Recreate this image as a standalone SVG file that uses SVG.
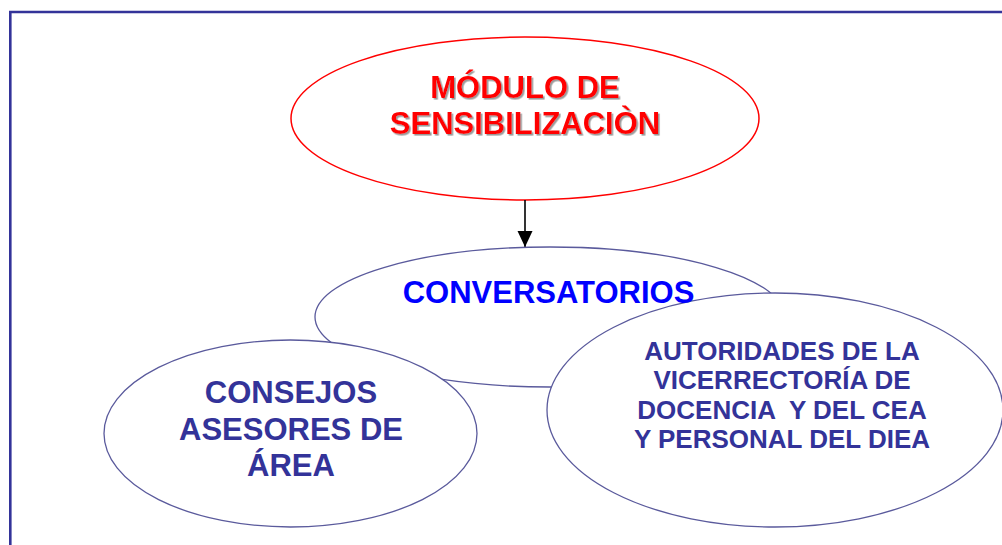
<svg xmlns="http://www.w3.org/2000/svg" width="1002" height="545" viewBox="0 0 1002 545">
<defs>
<style>
.t{font-family:"Liberation Sans",Arial,sans-serif;font-weight:bold;text-anchor:middle;white-space:pre}
.node{fill:#ffffff;stroke:#5a5a9c;stroke-width:1.3}
.navy{fill:#333399}
</style>
<filter id="sh" x="-10%" y="-10%" width="120%" height="130%">
<feDropShadow dx="1.6" dy="1.6" stdDeviation="0.4" flood-color="#9a9a9a" flood-opacity="1"/>
</filter>
<marker id="ah" markerWidth="16" markerHeight="16" refX="16" refY="7.5" orient="auto" markerUnits="userSpaceOnUse">
<path d="M0,0 L16,7.5 L0,15 Z" fill="#000"/>
</marker>
</defs>
<rect width="1002" height="545" fill="#ffffff"/>
<g id="frame">
<path d="M10.3,545 L10.3,12 L1002,12" fill="none" stroke="#333399" stroke-width="2.6"/>
</g>
<g id="modulo">
<ellipse cx="525" cy="118.5" rx="234" ry="81.5" fill="#fff" stroke="#ff0000" stroke-width="1.5"/>
<text class="t" x="525" y="98" font-size="31" fill="#ff0000" filter="url(#sh)">MÓDULO DE</text>
<text class="t" x="525" y="134" font-size="31" fill="#ff0000" filter="url(#sh)">SENSIBILIZACIÒN</text>
</g>
<g id="connectors">
<line x1="525" y1="200" x2="525" y2="247" stroke="#000" stroke-width="1.6" marker-end="url(#ah)"/>
</g>
<g id="conversatorios">
<ellipse class="node" cx="550" cy="317" rx="235" ry="70"/>
</g>
<g id="consejos">
<ellipse class="node" cx="290.5" cy="433.5" rx="186.5" ry="93.5"/>
<text class="t navy" x="291" y="403" font-size="31">CONSEJOS</text>
<text class="t navy" x="291" y="440" font-size="31">ASESORES DE</text>
<text class="t navy" x="291" y="476" font-size="31">ÁREA</text>
</g>
<g id="autoridades">
<ellipse class="node" cx="775" cy="410" rx="228" ry="117"/>
<text class="t navy" x="782" y="360" font-size="26">AUTORIDADES DE LA</text>
<text class="t navy" x="782" y="388.5" font-size="26">VICERRECTORÍA DE</text>
<text class="t navy" x="782" y="418.5" font-size="26">DOCENCIA  Y DEL CEA</text>
<text class="t navy" x="782" y="448" font-size="26">Y PERSONAL DEL DIEA</text>
</g>
<g id="conversatorios-label">
<text class="t" x="548.5" y="303" font-size="31" fill="#0000ff">CONVERSATORIOS</text>
</g>
</svg>
